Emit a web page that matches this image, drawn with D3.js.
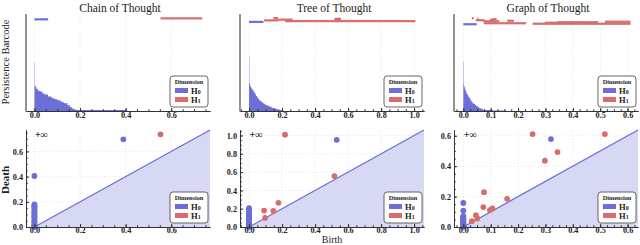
<!DOCTYPE html>
<html><head><meta charset="utf-8">
<script src="https://cdn.jsdelivr.net/npm/d3@7"></script>
<style>
body{margin:0;background:#fff}
svg{display:block}
text{font-family:"Liberation Serif","Times New Roman",serif;fill:#222}
</style>
</head><body>
<svg id="c" width="640" height="245"></svg>
<script>
// ---------- DATA ----------
const titles = ["Chain of Thought", "Tree of Thought", "Graph of Thought"];
const xTickVals = [[0, 0.2, 0.4, 0.6], [0, 0.2, 0.4, 0.6, 0.8, 1.0], [0, 0.1, 0.2, 0.3, 0.4, 0.5, 0.6]];
const yTickVals = [[0, 0.2, 0.4, 0.6], [0, 0.2, 0.4, 0.6, 0.8, 1.0], [0, 0.2, 0.4, 0.6]];
const xDomains = [[-0.037, 0.77], [-0.055, 1.06], [-0.034, 0.638]];
const legendLabels = ["0", "1"];

// H0 barcode bars (birth 0): [death, number of bars], longest first
const cotH0Steps = [[0.405,1],[0.18,1],[0.168,1],[0.163,1],[0.155,2],[0.145,2],[0.13,1],[0.12,1],[0.113,1],
  [0.1,1],[0.09,1],[0.08,1],[0.073,1],[0.06,2],[0.045,1],[0.035,2],[0.025,1],[0.015,2],[0.008,2],[0.004,1],[0.0015,24]];
const totH0Steps = [[0.205,1],[0.19,1],[0.17,1],[0.155,1],[0.14,1],[0.13,1],[0.12,1],[0.11,1],
  [0.1,1],[0.093,1],[0.086,1],[0.08,1],[0.075,1],[0.07,1],[0.062,2],[0.055,2],[0.048,2],[0.042,2],[0.038,2],
  [0.032,2],[0.026,2],[0.02,2],[0.013,2],[0.009,2],[0.006,2],[0.004,1],[0.002,35]];
const gotH0Steps = [[0.158,1],[0.107,1],[0.072,1],[0.069,2],[0.062,1],[0.057,2],[0.052,2],[0.047,2],[0.043,2],[0.039,1],
  [0.034,3],[0.03,3],[0.027,4],[0.022,3],[0.019,3],[0.016,3],[0.013,2],[0.011,3],[0.009,3],[0.007,3],
  [0.005,4],[0.003,3],[0.002,3],[0.0012,45]];
const h0ZeroLength = [44, 46, 73];
const h0TopBar = [[0, 0.06], [0, 0.087], [0, 0.049]];
const barSlots = [100, 129, 194];

// H1 pairs [birth, death], in barcode order (bottom to top)
const cotH1 = [[0.553, 0.736]];
const totH1 = [[0.218, 1.008], [0.091, 0.18], [0.178, 0.264], [0.517, 0.557], [0.147, 0.176], [0.097, 0.099]];
const gotH1 = [[0.253, 0.611], [0.0755, 0.229], [0.298, 0.436], [0.344, 0.493], [0.517, 0.611], [0.073, 0.131],
  [0.160, 0.185], [0.046, 0.078], [0.097, 0.111], [0.106, 0.122], [0.051, 0.056], [0.031, 0.038]];
const h1Origin = [[0, 0.008], [0, 0.01], [0, 0.005]];
const h0Far = [[0.39, 0.696], [0.531, 0.953], [0.32, 0.578]];

const h0Steps = [cotH0Steps, totH0Steps, gotH0Steps];
const h1Pairs = [cotH1, totH1, gotH1];

// ---------- STYLE / LAYOUT ----------
const C0 = "#6b6fd7", C1 = "#d86d6d", FILL = "#d7d8f4";
const lefts = [26, 240, 454], rights = [210, 424, 638];
const topBox = {t: 14, b: 111}, botBox = {t: 130, b: 227};
const svg = d3.select("#c");

function legend(g, right, bottom) {
  const w = 38, h = 31, x0 = right - w - 2, y0 = bottom - h - 4;
  const lg = g.append("g").attr("transform", `translate(${x0},${y0})`);
  lg.append("rect").attr("width", w).attr("height", h).attr("rx", 3)
    .attr("fill", "#fff").attr("stroke", "#555").attr("stroke-width", 0.9);
  lg.append("text").attr("x", w / 2).attr("y", 7.5).attr("text-anchor", "middle")
    .attr("font-size", 6.3).attr("font-weight", "bold").text("Dimension");
  [C0, C1].forEach((c, i) => {
    const cy = 14.5 + i * 9;
    lg.append("rect").attr("x", 5).attr("y", cy - 2.5).attr("width", 13).attr("height", 5).attr("fill", c);
    const t = lg.append("text").attr("x", 21).attr("y", cy + 3).attr("font-size", 8.5).attr("font-weight", "bold").text("H");
    t.append("tspan").attr("font-size", 6).attr("dy", 0.5).text(legendLabels[i]);
  });
}

function minorTicks(lo, hi, step) {
  const out = [];
  for (let v = Math.ceil(lo / step) * step; v <= hi + 1e-9; v += step) out.push(+v.toFixed(4));
  return out;
}

function styleAxis(a) {
  a.select(".domain").attr("stroke", "#333").attr("stroke-width", 1);
  a.selectAll(".tick line").attr("stroke", "#333");
  a.selectAll("text").attr("font-size", 8.2).attr("font-weight", "bold").attr("fill", "#222");
}

for (let p = 0; p < 3; p++) {
  const L = lefts[p], R = rights[p];
  const x = d3.scaleLinear().domain(xDomains[p]).range([L, R]);
  const g = svg.append("g");

  g.append("text").attr("x", (L + R) / 2 + 2).attr("y", 12).attr("text-anchor", "middle")
    .attr("font-size", 11.5).text(titles[p]);

  // ======== BARCODE ========
  const yb = d3.scaleLinear().domain([0, barSlots[p]]).range([topBox.b, topBox.t]);
  g.append("g").selectAll("line").data(xTickVals[p]).join("line")
    .attr("x1", d => x(d)).attr("x2", d => x(d)).attr("y1", topBox.t).attr("y2", topBox.b)
    .attr("stroke", "#ddd").attr("stroke-width", 0.7).attr("stroke-dasharray", "1,2");
  let idx = 0;
  const pth = d3.path();
  pth.moveTo(x(0), yb(0));
  h0Steps[p].forEach(([d, c]) => {
    pth.lineTo(x(d), yb(idx));
    pth.lineTo(x(d), yb(idx + c));
    idx += c;
  });
  pth.lineTo(x(0), yb(idx));
  pth.closePath();
  g.append("path").attr("d", pth.toString()).attr("fill", C0);
  idx += h0ZeroLength[p];
  const bars = [{b: h0TopBar[p][0], d: h0TopBar[p][1], c: C0, i: idx + 0.5}];
  h1Pairs[p].forEach((pr, k) => bars.push({b: pr[0], d: pr[1], c: C1, i: idx + 1.5 + k}));
  g.append("g").selectAll("rect").data(bars).join("rect")
    .attr("x", d => x(d.b)).attr("width", d => x(d.d) - x(d.b))
    .attr("y", d => yb(d.i) - 1.1).attr("height", 2.2).attr("fill", d => d.c);
  const xa = g.append("g").attr("transform", `translate(0,${topBox.b})`)
    .call(d3.axisBottom(x).tickValues(xTickVals[p]).tickSize(-3).tickSizeOuter(0).tickPadding(1)
      .tickFormat(d3.format(".1f")));
  const xm = g.append("g").attr("transform", `translate(0,${topBox.b})`)
    .call(d3.axisBottom(x).tickValues(minorTicks(xDomains[p][0], xDomains[p][1], p === 2 ? 0.025 : 0.05)).tickSize(-1.8).tickSizeOuter(0).tickFormat(""));
  styleAxis(xa); styleAxis(xm);
  g.append("line").attr("x1", L).attr("x2", L).attr("y1", topBox.t).attr("y2", topBox.b + 0.5)
    .attr("stroke", "#777").attr("stroke-width", 1.6);
  legend(g, R, topBox.b);

  // ======== DIAGRAM ========
  const yd = d3.scaleLinear().domain([0, xDomains[p][1]]).range([botBox.b, botBox.t]);
  g.append("g").selectAll("line").data(xTickVals[p]).join("line")
    .attr("x1", d => x(d)).attr("x2", d => x(d)).attr("y1", botBox.t).attr("y2", botBox.b)
    .attr("stroke", "#ddd").attr("stroke-width", 0.7).attr("stroke-dasharray", "1,2");
  g.append("g").selectAll("line").data(yTickVals[p]).join("line")
    .attr("x1", L).attr("x2", R).attr("y1", d => yd(d)).attr("y2", d => yd(d))
    .attr("stroke", "#ddd").attr("stroke-width", 0.7).attr("stroke-dasharray", "1,2");
  const top = xDomains[p][1];
  g.append("path").attr("d", d3.line()([[x(0), yd(0)], [x(top), yd(top)], [x(top), yd(0)]]) + "Z")
    .attr("fill", FILL);
  g.append("line").attr("x1", x(0)).attr("y1", yd(0)).attr("x2", x(top)).attr("y2", yd(top))
    .attr("stroke", C0).attr("stroke-width", 1.3);
  const h1pts = h1Pairs[p].concat([h1Origin[p]]);
  g.append("g").selectAll("circle").data(h1pts).join("circle")
    .attr("cx", d => x(d[0])).attr("cy", d => yd(d[1])).attr("r", 2.9).attr("fill", C1);
  const h0pts = h0Steps[p].map(([d]) => [0, d]).concat([h0Far[p]]);
  g.append("g").selectAll("circle").data(h0pts).join("circle")
    .attr("cx", d => x(d[0])).attr("cy", d => yd(d[1])).attr("r", 2.9).attr("fill", C0);
  const maxD = d3.max(h1pts.concat(h0pts), d => d[1]);
  g.append("text").attr("x", x(0) + 0.5).attr("y", yd(maxD) + 3.5).attr("font-size", 10)
    .attr("font-weight", "bold").text("+\u221E");
  const bx = g.append("g").attr("transform", `translate(0,${botBox.b})`)
    .call(d3.axisBottom(x).tickValues(xTickVals[p]).tickSize(-3).tickSizeOuter(0).tickPadding(0.5)
      .tickFormat(d3.format(".1f")));
  const bxm = g.append("g").attr("transform", `translate(0,${botBox.b})`)
    .call(d3.axisBottom(x).tickValues(minorTicks(xDomains[p][0], xDomains[p][1], p === 2 ? 0.025 : 0.05)).tickSize(-1.8).tickSizeOuter(0).tickFormat(""));
  const by = g.append("g").attr("transform", `translate(${L},0)`)
    .call(d3.axisLeft(yd).tickValues(yTickVals[p]).tickSize(-3).tickSizeOuter(0).tickPadding(3)
      .tickFormat(d3.format(".1f")));
  const bym = g.append("g").attr("transform", `translate(${L},0)`)
    .call(d3.axisLeft(yd).tickValues(minorTicks(0, xDomains[p][1], 0.05)).tickSize(-1.8).tickSizeOuter(0).tickFormat(""));
  [bx, bxm, by, bym].forEach(styleAxis);
  legend(g, R, botBox.b);
}

svg.append("text").attr("transform", "translate(9,62) rotate(-90)").attr("text-anchor", "middle")
  .attr("font-size", 10.5).text("Persistence Barcode");
svg.append("text").attr("transform", "translate(9,180) rotate(-90)").attr("text-anchor", "middle")
  .attr("font-size", 11).attr("font-weight", "bold").text("Death");
svg.append("text").attr("x", 332).attr("y", 242.7).attr("text-anchor", "middle")
  .attr("font-size", 10).text("Birth");
</script>
</body></html>
